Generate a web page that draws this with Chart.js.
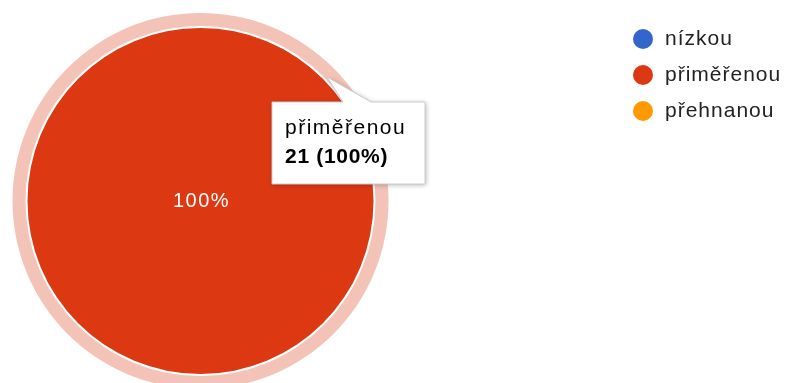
<!DOCTYPE html>
<html>
<head>
<meta charset="utf-8">
<script src="https://cdn.jsdelivr.net/npm/chart.js@4/dist/chart.umd.min.js"></script>
<style>
  html, body { margin: 0; padding: 0; background: #fff; }
  #wrap { width: 792px; height: 383px; position: relative; }
</style>
</head>
<body>
<div id="wrap"><canvas id="c" width="792" height="383"></canvas></div>
<script>
// Answer categories and how many respondents chose each
const categories = ['nízkou', 'přiměřenou', 'přehnanou'];
const counts = [0, 21, 0];
const sliceColors = ['#3366CC', '#DC3912', '#FF9900'];
// Slice currently highlighted (hover ring + tooltip)
const activeIndex = 1;

const FONT = 'Arial, "Liberation Sans", sans-serif';

function total() { return counts.reduce((a, b) => a + b, 0); }
function pctText(v) { return Math.round(v / total() * 100) + '%'; }

// Ring drawn around the highlighted slice
const haloPlugin = {
  id: 'halo',
  beforeDatasetsDraw(chart) {
    const arc = chart.getDatasetMeta(0).data[activeIndex];
    if (!arc) return;
    const p = arc.getProps(['x', 'y', 'outerRadius', 'startAngle', 'endAngle'], true);
    const r0 = p.outerRadius + 2, r1 = p.outerRadius + 15;
    const ctx = chart.ctx;
    ctx.save();
    ctx.fillStyle = 'rgba(220,57,18,0.3)';
    ctx.beginPath();
    ctx.arc(p.x, p.y, r1, p.startAngle, p.endAngle, false);
    ctx.arc(p.x, p.y, r0, p.endAngle, p.startAngle, true);
    ctx.closePath();
    ctx.fill();
    ctx.restore();
  }
};

// Percentage labels inside slices, legend, and tooltip callout
const overlayPlugin = {
  id: 'overlay',
  afterDatasetsDraw(chart) {
    const ctx = chart.ctx;
    const meta = chart.getDatasetMeta(0);
    ctx.save();
    // slice labels
    ctx.fillStyle = '#ffffff';
    ctx.font = '20px ' + FONT;
    ctx.letterSpacing = '1.5px';
    ctx.textAlign = 'center';
    ctx.textBaseline = 'middle';
    meta.data.forEach((arc, i) => {
      if (!counts[i]) return;
      const p = arc.getProps(['x', 'y', 'outerRadius', 'startAngle', 'endAngle'], true);
      let lx = p.x, ly = p.y;
      if (p.endAngle - p.startAngle < Math.PI * 2 - 1e-6) {
        const mid = (p.startAngle + p.endAngle) / 2;
        lx = p.x + Math.cos(mid) * p.outerRadius * 0.6;
        ly = p.y + Math.sin(mid) * p.outerRadius * 0.6;
      }
      ctx.fillText(pctText(counts[i]), lx + 1, ly);
    });

    // legend
    ctx.textAlign = 'left';
    ctx.letterSpacing = '1px';
    ctx.font = '21px ' + FONT;
    categories.forEach((name, i) => {
      const y = 39 + i * 36;
      ctx.fillStyle = sliceColors[i];
      ctx.beginPath();
      ctx.arc(643, y, 10, 0, Math.PI * 2);
      ctx.fill();
      ctx.fillStyle = '#222222';
      ctx.fillText(name, 665, y);
    });

    // tooltip callout
    const bx = 272, by = 102, bw = 153, bh = 82;
    ctx.beginPath();
    ctx.moveTo(bx, by);
    ctx.lineTo(343, by);
    ctx.lineTo(327, 77);
    ctx.lineTo(371, by);
    ctx.lineTo(bx + bw, by);
    ctx.lineTo(bx + bw, by + bh);
    ctx.lineTo(bx, by + bh);
    ctx.closePath();
    ctx.shadowColor = 'rgba(0,0,0,0.3)';
    ctx.shadowBlur = 5;
    ctx.shadowOffsetX = 1;
    ctx.shadowOffsetY = 1;
    ctx.fillStyle = '#ffffff';
    ctx.fill();
    ctx.shadowColor = 'transparent';
    ctx.strokeStyle = '#cccccc';
    ctx.lineWidth = 1;
    ctx.stroke();

    ctx.textBaseline = 'alphabetic';
    ctx.fillStyle = '#000000';
    ctx.font = '21px ' + FONT;
    ctx.letterSpacing = '1.5px';
    ctx.fillText(categories[activeIndex], 285, 134);
    ctx.font = 'bold 21px ' + FONT;
    ctx.letterSpacing = '0.7px';
    ctx.fillText(counts[activeIndex] + ' (' + pctText(counts[activeIndex]) + ')', 285, 163);
    ctx.restore();
  }
};

new Chart(document.getElementById('c'), {
  type: 'pie',
  data: {
    labels: categories,
    datasets: [{
      data: counts,
      backgroundColor: sliceColors,
      borderWidth: 0,
      hoverOffset: 0,
      offset: 0
    }]
  },
  options: {
    responsive: false,
    animation: false,
    events: [],
    layout: { padding: { left: 27, top: 28, right: 418, bottom: 9 } },
    plugins: {
      legend: { display: false },
      tooltip: { enabled: false }
    }
  },
  plugins: [haloPlugin, overlayPlugin]
});
</script>
</body>
</html>
